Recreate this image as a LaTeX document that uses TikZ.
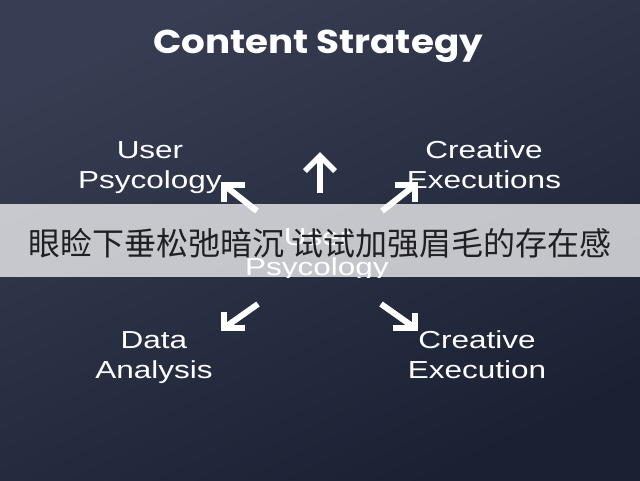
\documentclass[tikz,border=0pt]{standalone}
\usepackage{fontspec}
\usetikzlibrary{calc}
\newfontfamily\labelfont[FakeStretch=1.28]{Liberation Sans}
\newfontfamily\titlefont[FakeStretch=1.13]{Poppins}
\newfontfamily\cjk{Noto Sans CJK SC}
\definecolor{bgtop}{HTML}{373E53}
\definecolor{bgbot}{HTML}{1B2133}
\definecolor{subtxt}{HTML}{202022}
\tikzset{
  lbl/.style={text=white, align=center, inner sep=0pt, anchor=base,
    font=\labelfont\fontsize{24.6}{30}\selectfont},
  shaft/.style={draw=white, line width=6pt, line cap=butt},
  head/.style={draw=white, line width=5.5pt, line cap=butt, line join=miter},
}
\begin{document}
\begin{tikzpicture}[x=1pt,y=-1pt]
\useasboundingbox (0,0) rectangle (640,480);
\shade[top color=bgtop, bottom color=bgbot, shading angle=25] (0,0) rectangle (640,480);

\node[text=white, inner sep=0pt, anchor=base, font=\titlefont\bfseries\fontsize{33}{36}\selectfont] (title) at (318,53.3) {Content Strategy};

% anchor=base is the baseline of the last line
\node[lbl] (ul) at (150,188) {User\\Psycology};
\node[lbl] (ur) at (484,188) {Creative\\Executions};
\node[lbl] (ll) at (154,378.5) {Data\\Analysis};
\node[lbl] (lr) at (477,378.5) {Creative\\Execution};

\begin{scope}
\clip (0,0) rectangle (640,277);
\node[lbl] (c) at (317,275) {User\\Psycology};
\end{scope}

% up arrow
\coordinate (upT) at (320,156);
\coordinate (upS) at (320,193);
\draw[shaft] (upS) -- ($(upT)+(0,1)$);
\draw[head] ($(upT)+(-15,15)$) -- (upT) -- ($(upT)+(15,15)$);

% upper left
\coordinate (ulT) at (224,185);
\coordinate (ulS) at (257,211);
\draw[shaft] (ulS) -- (ulT);
\draw[head] ($(ulT)+(21,0)$) -- (ulT) -- ($(ulT)+(0,17)$);

% upper right
\coordinate (urT) at (415,185);
\coordinate (urS) at (382,211);
\draw[shaft] (urS) -- (urT);
\draw[head] ($(urT)+(-20,0)$) -- (urT) -- ($(urT)+(0,17)$);

% lower left
\coordinate (llT) at (224,328);
\coordinate (llS) at (258,304);
\draw[shaft] (llS) -- (llT);
\draw[head] ($(llT)+(21,0)$) -- (llT) -- ($(llT)+(0,-16)$);

% lower right
\coordinate (lrT) at (415,328);
\coordinate (lrS) at (381,304);
\draw[shaft] (lrS) -- (lrT);
\draw[head] ($(lrT)+(-22,0)$) -- (lrT) -- ($(lrT)+(0,-15)$);

% subtitle banner
\fill[white, opacity=0.73] (0,204) rectangle (640,277);
\node[text=subtxt, inner sep=0pt, anchor=base, font=\cjk\fontsize{32}{36}\selectfont] (sub) at (320,255.5) {眼睑下垂松弛暗沉 试试加强眉毛的存在感};
\end{tikzpicture}
\end{document}
